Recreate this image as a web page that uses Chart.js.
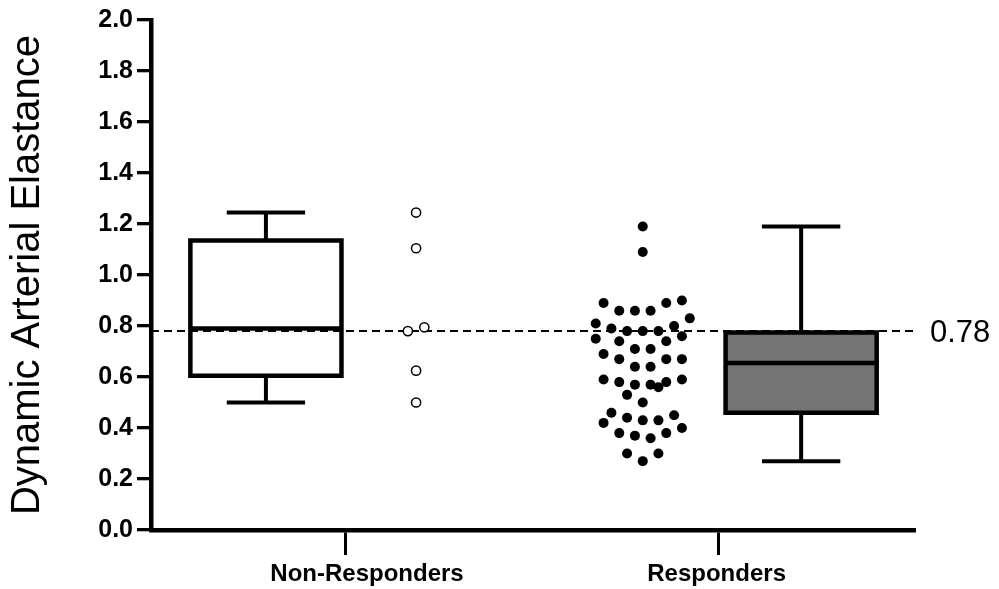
<!DOCTYPE html>
<html>
<head>
<meta charset="utf-8">
<script src="https://cdn.jsdelivr.net/npm/chart.js@4/dist/chart.umd.min.js"></script>
<style>
  html, body { margin: 0; padding: 0; background: #ffffff; }
  #wrap { width: 999px; height: 589px; position: relative; }
</style>
</head>
<body>
<div id="wrap"><canvas id="c"></canvas></div>
<script>
// ---------------- DATA ----------------
const categories = ['Non-Responders', 'Responders'];
const yTickValues = [0, 0.2, 0.4, 0.6, 0.8, 1.0, 1.2, 1.4, 1.6, 1.8, 2.0];
const cutoff = 0.78;

// box-and-whisker summaries (Non-Responders, Responders)
const whiskerMin = [0.50, 0.27];
const quartile1  = [0.605, 0.46];
const medians    = [0.79, 0.655];
const quartile3  = [1.135, 0.775];
const whiskerMax = [1.245, 1.19];

// individual values
const nonResponders = [1.245, 1.105, 0.78, 0.795, 0.625, 0.50];
const nonRespondersSlot = [0, 0, -1, 1, 0, 0];
const responders = [1.19, 1.09, 0.89, 0.86, 0.86, 0.86, 0.89, 0.90, 0.81, 0.83,
                    0.79, 0.78, 0.78, 0.78, 0.80, 0.75, 0.76, 0.74, 0.74, 0.71,
                    0.71, 0.69, 0.67, 0.67, 0.67, 0.64, 0.64, 0.59, 0.58, 0.57,
                    0.57, 0.56, 0.58, 0.59, 0.53, 0.50, 0.46, 0.45, 0.42, 0.44,
                    0.43, 0.43, 0.40, 0.38, 0.37, 0.36, 0.38, 0.30, 0.27, 0.30];
const respondersSlot = [0, 0, -5, -3, -1, 1, 3, 5, -6, 6,
                        -4, -2, 0, 2, 4, -6, 5, -3, 3, -1,
                        1, -5, -3, 3, 5, -1, 1, -5, -3, -1,
                        1, 2, 3, 5, -2, 0, -4, 4, -5, -2,
                        0, 2, 5, -3, -1, 1, 3, -2, 0, 2];

// ---------------- LAYOUT (x in category units) ----------------
const categoryPos = [1, 3];          // tick marks
const labelPos = [1.118, 2.992];     // category label centres
const X_MIN = -0.04, X_MAX = 4.05;
const boxCenter = [0.576, 3.445];
const dotCenter = [1.381, 2.596];
const BOX_W = 0.81, CAP_W = 0.42, SLOT_STEP = 0.042;
const boxFill = ['rgba(0,0,0,0)', '#747474'];
const FONT = '"Liberation Sans", Arial, Helvetica, sans-serif';

function seg(points, extra) {
  return Object.assign({
    type: 'line', data: points, borderColor: '#000', borderWidth: 4,
    pointRadius: 0, pointHoverRadius: 0, fill: false, tension: 0,
    borderCapStyle: 'butt', borderJoinStyle: 'miter', order: 5
  }, extra || {});
}

const datasets = [];
for (let i = 0; i < categories.length; i++) {
  const c = boxCenter[i], L = c - BOX_W / 2, R = c + BOX_W / 2;
  datasets.push(seg([{x:L,y:quartile1[i]},{x:L,y:quartile3[i]},{x:R,y:quartile3[i]},{x:R,y:quartile1[i]},{x:L,y:quartile1[i]}],
    { fill: 'shape', backgroundColor: boxFill[i], borderWidth: 4.5, borderCapStyle: 'square', order: 6 }));
  datasets.push(seg([{x:L,y:medians[i]},{x:R,y:medians[i]}], { borderWidth: 4.5, order: 5 }));
  datasets.push(seg([{x:c,y:quartile3[i]},{x:c,y:whiskerMax[i]}]));
  datasets.push(seg([{x:c,y:whiskerMin[i]},{x:c,y:quartile1[i]}]));
  datasets.push(seg([{x:c-CAP_W/2,y:whiskerMax[i]},{x:c+CAP_W/2,y:whiskerMax[i]}]));
  datasets.push(seg([{x:c-CAP_W/2,y:whiskerMin[i]},{x:c+CAP_W/2,y:whiskerMin[i]}]));
}
// cut-off dashed line
datasets.push(seg([{x:X_MIN,y:cutoff},{x:X_MAX,y:cutoff}], { borderWidth: 2, borderDash: [8, 5], order: 3 }));
// points
datasets.push({
  type: 'scatter', label: categories[0],
  data: nonResponders.map((v, k) => ({ x: dotCenter[0] + nonRespondersSlot[k] * SLOT_STEP * 1.05, y: v })),
  pointRadius: 4.6, pointBorderWidth: 1.5, pointBackgroundColor: '#fff', pointBorderColor: '#000',
  pointHoverRadius: 4.6, showLine: false, order: 1
});
datasets.push({
  type: 'scatter', label: categories[1],
  data: responders.map((v, k) => ({ x: dotCenter[1] + respondersSlot[k] * SLOT_STEP, y: v })),
  pointRadius: 5, pointBorderWidth: 0, pointBackgroundColor: '#000', pointBorderColor: '#000',
  pointHoverRadius: 5, showLine: false, order: 1
});

const cutoffLabel = {
  id: 'cutoffLabel',
  afterDraw(chart) {
    const { ctx, chartArea, scales } = chart;
    const y = scales.y.getPixelForValue(cutoff);
    ctx.save();
    ctx.font = '31px ' + FONT;
    ctx.fillStyle = '#000';
    ctx.textAlign = 'left';
    ctx.textBaseline = 'middle';
    ctx.fillText(cutoff.toFixed(2), chartArea.right + 16, y + 2);
    ctx.restore();
  }
};

new Chart(document.getElementById('c'), {
  type: 'line',
  data: { datasets },
  options: {
    responsive: true, maintainAspectRatio: false, animation: false,
    layout: { padding: { top: 20, right: 85, left: 0, bottom: 0 } },
    plugins: { legend: { display: false }, tooltip: { enabled: false } },
    events: [],
    scales: {
      x: {
        type: 'linear', min: X_MIN, max: X_MAX, position: 'bottom',
        afterBuildTicks: (s) => { s.ticks = categoryPos.map(v => ({ value: v })); },
        afterFit: (s) => { s.height = 25; },
        ticks: { display: false },
        grid: { drawOnChartArea: false, drawTicks: true, tickLength: 25, color: '#000', lineWidth: 3 },
        border: { display: true, color: '#000', width: 4.5 }
      },
      xLabels: {
        type: 'linear', min: X_MIN, max: X_MAX, position: 'bottom',
        afterBuildTicks: (s) => { s.ticks = labelPos.map(v => ({ value: v })); },
        afterFit: (s) => { s.height = 34; },
        ticks: {
          autoSkip: false, maxRotation: 0, padding: 5, color: '#000',
          font: { family: FONT, size: 24, weight: 'bold' },
          callback: (v) => { const k = labelPos.indexOf(v); return k >= 0 ? categories[k] : ''; }
        },
        grid: { display: false, drawTicks: false },
        border: { display: false }
      },
      y: {
        type: 'linear', min: 0, max: 2,
        afterBuildTicks: (s) => { s.ticks = yTickValues.map(v => ({ value: v })); },
        afterFit: (s) => { s.width = 151; },
        ticks: {
          padding: 4, color: '#000',
          font: { family: FONT, size: 25, weight: 'bold' },
          callback: (v) => Number(v).toFixed(1)
        },
        grid: { drawOnChartArea: false, drawTicks: true, tickLength: 14, color: '#000', lineWidth: 3.3 },
        border: { display: true, color: '#000', width: 4.5 },
        title: {
          display: true, text: 'Dynamic Arterial Elastance', color: '#000',
          font: { family: FONT, size: 40, weight: 'normal' }, padding: { top: 4, bottom: 0 }
        }
      }
    }
  },
  plugins: [cutoffLabel]
});
</script>
</body>
</html>
